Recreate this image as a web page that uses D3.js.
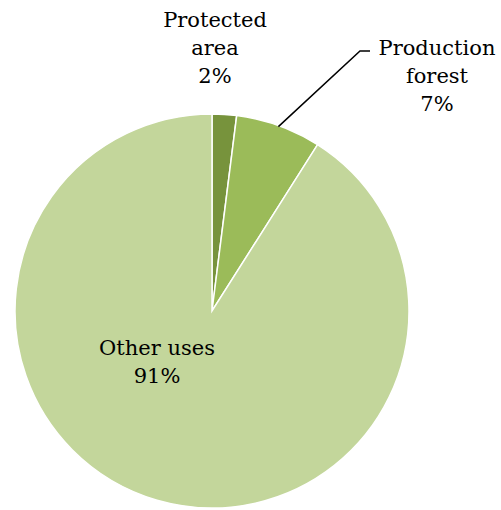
<!DOCTYPE html>
<html><head><meta charset="utf-8">
<script src="https://cdn.jsdelivr.net/npm/d3@7"></script>
<style>body{margin:0;background:#fff}</style>
</head><body>
<svg id="c" width="501" height="510"></svg>
<script>
const categories = ["Protected area", "Production forest", "Other uses"];
const values = [2, 7, 91];
const labelLines = [["Protected", "area", "2%"], ["Production", "forest", "7%"], ["Other uses", "91%"]];
const colors = ["#77933C", "#9BBB59", "#C3D69B"];

const svg = d3.select("#c");
const cx = 212, cy = 311, r = 197;
const g = svg.append("g").attr("transform", `translate(${cx},${cy})`);
const pie = d3.pie().sort(null).value(d => d);
const arcs = pie(values);
const arc = d3.arc().innerRadius(0).outerRadius(r);
const color = d3.scaleOrdinal().domain(categories).range(colors);

g.selectAll("path").data(arcs).join("path")
  .attr("d", arc)
  .attr("fill", (d, i) => color(categories[i]))
  .attr("stroke", "#fff").attr("stroke-width", 1.5);

// label positions (relative to center)
const labelPos = [[215 - cx, 27 - cy], [437 - cx, 55 - cy], [157 - cx, 355 - cy]];
const font = "'Palatino Linotype','Book Antiqua',Palatino,'DejaVu Serif',serif";
labelLines.forEach((lines, i) => {
  const t = g.append("text")
    .attr("text-anchor", "middle")
    .attr("font-family", font)
    .attr("font-size", 21)
    .attr("fill", "#000")
    .attr("transform", `translate(${labelPos[i][0]},${labelPos[i][1]})`);
  lines.forEach((l, j) => t.append("tspan").attr("x", 0).attr("y", j * 28).text(l));
});

// leader line for Production forest
const a1 = arcs[1];
const mid = (a1.startAngle + a1.endAngle) / 2;
const p0 = [Math.sin(mid) * (r - 1), -Math.cos(mid) * (r - 1)];
g.append("polyline")
  .attr("points", [p0, [360 - cx, 51 - cy], [370 - cx, 51 - cy]].map(p => p.join(",")).join(" "))
  .attr("fill", "none").attr("stroke", "#000").attr("stroke-width", 1.5);
</script>
</body></html>
